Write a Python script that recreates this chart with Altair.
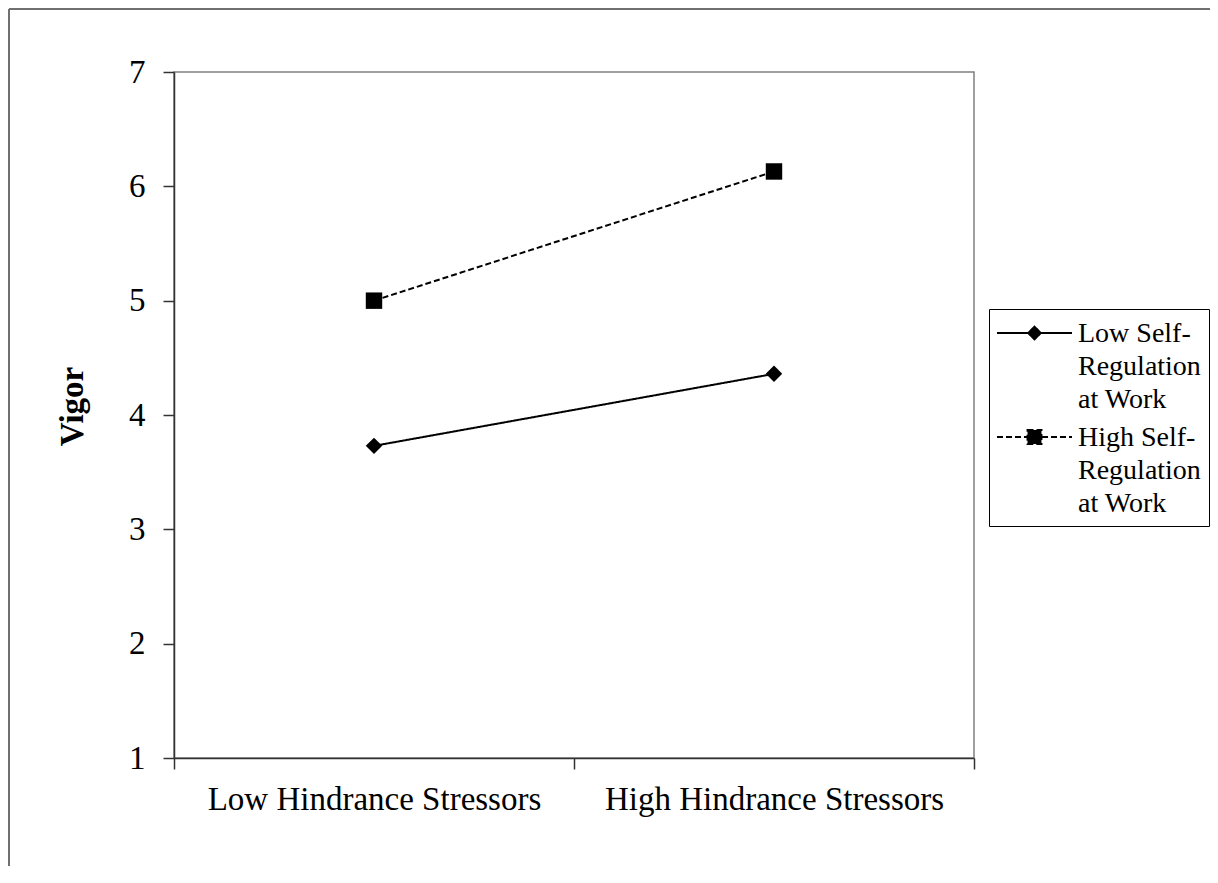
import altair as alt
import pandas as pd

# ---- data ----
categories = ["Low Hindrance Stressors", "High Hindrance Stressors"]
series_names = ["Low Self-\nRegulation\nat Work", "High Self-\nRegulation\nat Work"]
low_self_regulation = [3.73, 4.36]
high_self_regulation = [5.00, 6.13]
y_ticks = [1, 2, 3, 4, 5, 6, 7]

rows = []
for s, vals in zip(series_names, [low_self_regulation, high_self_regulation]):
    for c, v in zip(categories, vals):
        rows.append({"stress": c, "series": s, "marker": s, "vigor": v})
df = pd.DataFrame(rows)

FONT = "Liberation Serif"

# legend symbols: line segment with marker (unit path; 1 unit = 24 px at size 2304)
dy = -0.375
hl = 1.5625
dm = 0.2625
sq = 0.29
low_path = (f"M{-hl},{dy}L{hl},{dy}"
            f"M0,{dy-dm:.4f}L{dm},{dy}L0,{dy+dm:.4f}L{-dm},{dy}Z")
high_path = (f"M{-hl},{dy}L{hl},{dy}"
             f"M{-sq},{dy-sq:.4f}L{sq},{dy-sq:.4f}L{sq},{dy+sq:.4f}L{-sq},{dy+sq:.4f}Z")

x_enc = alt.X(
    "stress:N", sort=categories,
    scale=alt.Scale(type="band", paddingInner=0, paddingOuter=0),
    axis=alt.Axis(title=None, labelAngle=0, labelFont=FONT, labelFontSize=33,
                  labelColor="black", labelPadding=14, tickSize=11,
                  tickColor="#333333", domainColor="#333333", tickBand="extent",
                  grid=False, labelLimit=500, tickWidth=1.5, domainWidth=1.5),
)
y_enc = alt.Y(
    "vigor:Q",
    scale=alt.Scale(domain=[1, 7], nice=False, zero=False),
    axis=alt.Axis(values=y_ticks, title="Vigor", titleFont=FONT, titleFontSize=33,
                  titleFontWeight="bold", titleColor="black", titleAngle=270,
                  titleAlign="center", titleBaseline="alphabetic",
                  titleX=-92, titleY=334,
                  labelFont=FONT, labelFontSize=33, labelColor="black",
                  labelPadding=18, tickSize=11, tickColor="#333333",
                  domainColor="#333333", grid=False, tickWidth=1.5, domainWidth=1.5),
)

sel_high = "indexof(datum.value, 'High') == 0"
legend = alt.Legend(
    title=None, orient="none", legendX=815, legendY=237, padding=8,
    strokeColor="black", fillColor="white", symbolSize=2304, symbolOffset=12.5,
    symbolType=alt.ExprRef(expr=f"{sel_high} ? '{high_path}' : '{low_path}'"),
    symbolFillColor="black", symbolStrokeColor="black", symbolStrokeWidth=2,
    symbolOpacity=1,
    labelFont=FONT, labelFontSize=28, labelColor="black", labelBaseline="alphabetic",
    labelOffset=18.5, labelExpr="split(datum.label, '\\n')", rowPadding=7,
)

lines = alt.Chart(df).mark_line(color="black", strokeWidth=2).encode(
    x=x_enc, y=y_enc,
    strokeDash=alt.StrokeDash("series:N", sort=series_names,
                              scale=alt.Scale(domain=series_names, range=[[1, 0], [6, 3]]),
                              legend=legend),
    detail="series:N",
)
points = alt.Chart(df).mark_point(filled=True, color="black", size=270, opacity=1).encode(
    x=x_enc, y=y_enc,
    shape=alt.Shape("marker:N", sort=series_names,
                    scale=alt.Scale(range=["diamond", "square"]),
                    legend=None),
)

frame_df = pd.DataFrame({"k": [0]})
top_rule = alt.Chart(frame_df).mark_rule(color="#707070", strokeWidth=2).encode(
    x=alt.value(-165), x2=alt.value(1036), y=alt.value(-63))
left_rule = alt.Chart(frame_df).mark_rule(color="#707070", strokeWidth=2).encode(
    x=alt.value(-165), y=alt.value(-63), y2=alt.value(794))

chart = alt.layer(top_rule, left_rule, lines, points).properties(
    width=800, height=686,
    autosize=alt.AutoSizeParams(type="none"),
    padding={"left": 166, "top": 64, "right": 236, "bottom": 108},
    background="white",
).configure(
    view=alt.ViewConfig(stroke="#808080", strokeWidth=1.5),
    style=alt.StyleConfigIndex(**{"guide-label": alt.MarkConfig(lineHeight=33)}),
)

chart.save("out.html", embed_options={"renderer": "svg", "actions": False})
